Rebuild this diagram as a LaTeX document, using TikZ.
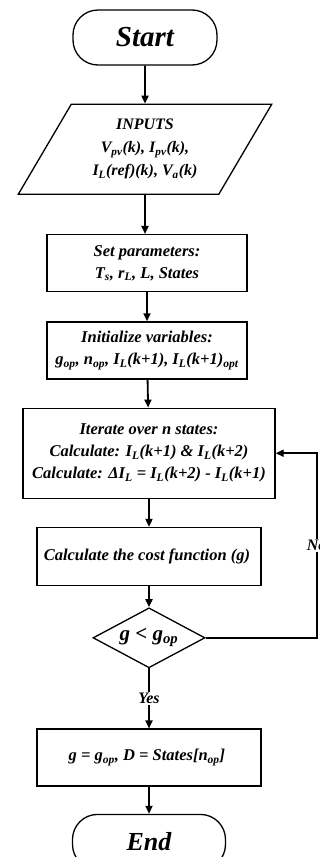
\documentclass[tikz,border=0pt]{standalone}
\usepackage{fontspec}
\setmainfont{Liberation Serif}
\usetikzlibrary{arrows.meta,positioning,shapes.geometric}

\begin{document}
\begin{tikzpicture}[
  x=1pt, y=-1pt,
  node distance=30pt,
  terminal/.style={rectangle, draw, line width=1.3pt, rounded corners=25pt, minimum width=144pt, minimum height=55pt, font=\fontsize{29}{31}\selectfont\bfseries\itshape},
  inout/.style={trapezium, trapezium left angle=59, trapezium right angle=121, trapezium stretches=true, draw, line width=1.3pt, minimum width=254pt, minimum height=90pt, align=center, font=\fontsize{16}{23}\selectfont\bfseries\itshape},
  process/.style={rectangle, draw, line width=1.3pt, minimum width=200pt, minimum height=57pt, align=center, font=\fontsize{16.5}{22}\selectfont\bfseries\itshape},
  decision/.style={diamond, draw, line width=1.3pt, aspect=1.87, inner sep=-6pt, minimum width=112pt, minimum height=60pt, font=\fontsize{21}{23}\selectfont\bfseries\itshape},
  link/.style={-{Triangle[length=8pt,width=7pt]}, line width=1.8pt},
  lbl/.style={fill=white, inner sep=1pt, font=\fontsize{16}{18}\selectfont\bfseries\itshape},
]
  \useasboundingbox (0,0) rectangle (320,857);

  % Start and inputs
  \node[terminal] (start) at (145,37.5) {Start};
  \node[inout, below=38pt of start] (inputs) {
    INPUTS\\
    V\textsubscript{pv}(k), I\textsubscript{pv}(k),\\
    I\textsubscript{L}(ref)(k), V\textsubscript{a}(k)
  };

  % Setup
  \node[process, below=39pt of inputs, xshift=2pt] (params) {
    Set parameters:\\
    T\textsubscript{s}, r\textsubscript{L}, L, States
  };
  \node[process, below=29pt of params] (init) {
    Initialize variables:\\
    g\textsubscript{op}, n\textsubscript{op}, I\textsubscript{L}(k+1), I\textsubscript{L}(k+1)\textsubscript{opt}
  };

  % Loop
  \node[process, below=28pt of init, xshift=2pt, minimum width=252pt, minimum height=90pt] (iter) {
    Iterate over n states:\\
    Calculate: I\textsubscript{L}(k+1) \& I\textsubscript{L}(k+2)\\
    Calculate: ΔI\textsubscript{L} = I\textsubscript{L}(k+2) - I\textsubscript{L}(k+1)
  };
  \node[process, below=28pt of iter, minimum width=224pt, minimum height=58pt] (cost) {
    Calculate the cost function (g)
  };
  \node[decision, below=21pt of cost] (check) {g < g\textsubscript{op}};

  % Result and end
  \node[process, below=60pt of check, minimum width=224pt] (result) {
    g = g\textsubscript{op}, D = States[n\textsubscript{op}]
  };
  \node[terminal, below=27pt of result, minimum width=153pt, font=\fontsize{26}{28}\selectfont\bfseries\itshape] (end) {End};

  % Links
  \draw[link] (start) -- (inputs);
  \draw[link] (inputs.south) -- (params.north -| inputs.south);
  \draw[link] (params) -- (init);
  \draw[link] (init) -- (iter);
  \draw[link] (iter) -- (cost);
  \draw[link] (cost) -- (check);
  \draw[link] (check) -- (result) node[midway, lbl] {Yes};
  \draw[link] (result) -- (end);

  % Feedback
  \coordinate[right=111pt of check.east] (loop);
  \draw[link] (check.east) -- (loop) |- (iter.east) node[pos=0.25, lbl] {No};
\end{tikzpicture}
\end{document}
